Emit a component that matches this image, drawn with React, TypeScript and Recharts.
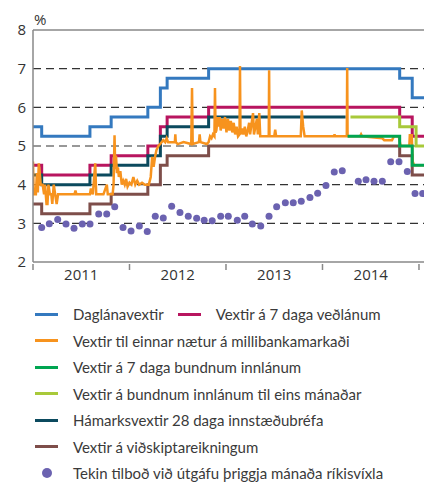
import React from "react";
import {
  ComposedChart,
  Line,
  Scatter,
  XAxis,
  YAxis,
  CartesianGrid,
  ReferenceLine,
} from "recharts";

// step series: [decimal year, %]
const dagData = [
  [2011.0, 5.5], [2011.09, 5.25], [2011.59, 5.5], [2011.81, 5.75], [2012.19, 6.0],
  [2012.32, 6.5], [2012.39, 6.75], [2012.82, 7.0], [2014.8, 6.75], [2014.93, 6.25], [2015.06, 6.25],
];
const vedData = [
  [2011.0, 4.5], [2011.09, 4.25], [2011.59, 4.5], [2011.81, 4.75], [2012.19, 5.0],
  [2012.32, 5.5], [2012.39, 5.75], [2012.82, 6.0], [2014.8, 5.75], [2014.93, 5.25], [2015.06, 5.25],
];
const hamData = [
  [2011.0, 4.25], [2011.09, 4.0], [2011.59, 4.25], [2011.81, 4.5], [2012.19, 4.75],
  [2012.32, 5.25], [2012.39, 5.5], [2012.82, 5.75], [2014.24, 5.75],
];
const vidData = [
  [2011.0, 3.5], [2011.09, 3.25], [2011.59, 3.5], [2011.81, 3.75], [2012.19, 4.0],
  [2012.32, 4.5], [2012.39, 4.75], [2012.82, 5.0], [2014.8, 4.75], [2014.93, 4.25], [2015.06, 4.25],
];
const bund7Data = [[2014.26, 5.25], [2014.8, 5.0], [2014.93, 4.5], [2015.06, 4.5]];
const bundManData = [[2014.29, 5.75], [2014.8, 5.5], [2014.97, 5.0], [2015.06, 5.0]];

// overnight interbank rate
const nottData = [
  [2011.0, 4.6], [2011.005, 4.0], [2011.01, 3.75], [2011.03, 3.75], [2011.04, 4.3], [2011.05, 3.8],
  [2011.06, 4.55], [2011.07, 4.3], [2011.08, 4.0], [2011.1, 4.0], [2011.115, 3.75], [2011.125, 4.0],
  [2011.14, 3.5], [2011.15, 3.5], [2011.16, 4.0], [2011.175, 3.75], [2011.19, 3.75], [2011.2, 3.5],
  [2011.215, 4.0], [2011.23, 3.75], [2011.245, 3.5], [2011.26, 3.75], [2011.3, 3.75], [2011.43, 3.75],
  [2011.44, 3.85], [2011.45, 3.75], [2011.59, 3.75], [2011.6, 3.9], [2011.62, 3.75], [2011.645, 4.55],
  [2011.655, 3.75], [2011.73, 3.75], [2011.765, 4.0], [2011.775, 3.75], [2011.825, 3.75], [2011.835, 4.0],
  [2011.845, 5.28], [2011.852, 4.4], [2011.86, 4.75], [2011.87, 4.3], [2011.88, 4.45], [2011.89, 4.2],
  [2011.905, 4.35], [2011.92, 4.0], [2011.935, 4.1], [2011.95, 4.0], [2011.965, 4.15], [2011.98, 3.95],
  [2012.0, 4.05], [2012.02, 4.0], [2012.04, 4.2], [2012.06, 4.0], [2012.08, 4.1], [2012.1, 4.0],
  [2012.13, 4.05], [2012.16, 4.0], [2012.2, 4.0], [2012.22, 4.2], [2012.235, 4.72], [2012.25, 4.46],
  [2012.265, 4.72], [2012.28, 4.9], [2012.3, 5.0], [2012.32, 5.06], [2012.35, 5.15], [2012.37, 5.1],
  [2012.385, 5.2], [2012.4, 5.1], [2012.47, 5.1], [2012.475, 5.3], [2012.48, 5.1], [2012.5, 5.05],
  [2012.56, 5.1], [2012.64, 5.05], [2012.648, 6.5], [2012.655, 5.05], [2012.72, 5.1], [2012.727, 5.3],
  [2012.735, 5.1], [2012.8, 5.05], [2012.82, 5.1], [2012.835, 5.25], [2012.85, 5.2], [2012.865, 5.3],
  [2012.88, 5.25], [2012.886, 6.5], [2012.892, 5.35], [2012.9, 5.4], [2012.915, 5.75], [2012.925, 5.5],
  [2012.935, 5.75], [2012.945, 5.4], [2012.96, 5.7], [2012.975, 5.45], [2012.99, 5.75], [2013.005, 5.35],
  [2013.02, 5.7], [2013.035, 5.4], [2013.05, 5.65], [2013.065, 5.35], [2013.08, 5.6], [2013.095, 5.3],
  [2013.11, 5.5], [2013.125, 5.25], [2013.14, 5.3], [2013.145, 7.07], [2013.15, 5.3], [2013.165, 5.45],
  [2013.18, 5.3], [2013.195, 5.5], [2013.21, 5.25], [2013.225, 5.4], [2013.24, 5.6], [2013.25, 5.3],
  [2013.28, 5.85], [2013.29, 5.3], [2013.32, 5.7], [2013.33, 5.3], [2013.345, 5.85], [2013.355, 5.25],
  [2013.443, 5.25], [2013.447, 6.96], [2013.451, 5.25], [2013.5, 5.25], [2013.51, 5.42], [2013.52, 5.25],
  [2013.775, 5.25], [2013.785, 5.92], [2013.8, 5.5], [2013.815, 5.25], [2014.12, 5.25], [2014.125, 5.3],
  [2014.13, 5.25], [2014.252, 5.25], [2014.256, 7.02], [2014.26, 5.25], [2014.39, 5.25], [2014.4, 5.3],
  [2014.41, 5.25], [2014.62, 5.2], [2014.64, 5.15], [2014.72, 5.15], [2014.74, 5.25], [2014.79, 5.25],
  [2014.81, 5.0], [2014.9, 5.0], [2014.905, 5.28], [2014.925, 5.28], [2014.935, 4.6], [2014.95, 4.5],
  [2015.06, 4.5],
];

// 3-month treasury bill auctions
const vixlaData = [
  [2011.09, 2.89], [2011.169, 2.99], [2011.256, 3.1], [2011.342, 2.98], [2011.425, 2.87], [2011.511, 2.98],
  [2011.591, 2.98], [2011.681, 3.24], [2011.764, 3.24], [2011.847, 3.43], [2011.933, 2.89], [2012.016, 2.8],
  [2012.102, 2.93], [2012.184, 2.79], [2012.267, 3.18], [2012.35, 3.14], [2012.437, 3.44], [2012.523, 3.28],
  [2012.609, 3.18], [2012.696, 3.13], [2012.774, 3.08], [2012.857, 3.07], [2012.945, 3.18], [2013.024, 3.18],
  [2013.117, 3.08], [2013.194, 3.18], [2013.273, 2.98], [2013.36, 2.93], [2013.446, 3.18], [2013.525, 3.43],
  [2013.615, 3.53], [2013.697, 3.53], [2013.78, 3.57], [2013.87, 3.67], [2013.95, 3.78], [2014.036, 3.98],
  [2014.122, 4.33], [2014.205, 4.36], [2014.371, 4.09], [2014.451, 4.13], [2014.534, 4.09], [2014.62, 4.09],
  [2014.707, 4.59], [2014.793, 4.59], [2014.879, 4.34], [2014.959, 3.77], [2015.038, 3.77],
];

const yTicks = [2, 3, 4, 5, 6, 7, 8];
const xTicks = [2011, 2011.5, 2012, 2012.5, 2013, 2013.5, 2014, 2014.5, 2015];

const toPts = (arr: number[][]) => arr.map(([x, y]) => ({ x, y }));

const steps = [
  { name: "Daglánavextir", data: dagData, color: "#3479BF" },
  { name: "Vextir á 7 daga veðlánum", data: vedData, color: "#B8155F" },
  { name: "Hámarksvextir 28 daga innstæðubréfa", data: hamData, color: "#0B4A5E" },
  { name: "Vextir á viðskiptareikningum", data: vidData, color: "#7E4E4A" },
  { name: "Vextir á bundnum innlánum til eins mánaðar", data: bundManData, color: "#A8C93A" },
];

const legendRows = [
  [
    { label: "Daglánavextir", color: "#3479BF" },
    { label: "Vextir á 7 daga veðlánum", color: "#B8155F" },
  ],
  [{ label: "Vextir til einnar nætur á millibankamarkaði", color: "#F7931E" }],
  [{ label: "Vextir á 7 daga bundnum innlánum", color: "#00A551" }],
  [{ label: "Vextir á bundnum innlánum til eins mánaðar", color: "#A8C93A" }],
  [{ label: "Hámarksvextir 28 daga innstæðubréfa", color: "#0B4A5E" }],
  [{ label: "Vextir á viðskiptareikningum", color: "#7E4E4A" }],
  [{ label: "Tekin tilboð við útgáfu þriggja mánaða ríkisvíxla", color: "#6B62B0", dot: true }],
];

const YearTick = (props: any) => {
  const { x, y, payload } = props;
  const v = payload.value;
  if (Number.isInteger(v)) {
    return <line x1={x} x2={x} y1={y} y2={y + 6} stroke="#888" strokeWidth={1.5} />;
  }
  return (
    <text x={x} y={y + 16} textAnchor="middle" fontSize={15} fill="#333" fontFamily="'Open Sans', sans-serif">
      {Math.floor(v)}
    </text>
  );
};

export default function App() {
  return (
    <div style={{ position: "absolute", left: 0, top: 0, width: 424, height: 482, background: "#fff" }}>
      <span
        style={{
          position: "absolute",
          left: 34,
          top: 9,
          fontSize: 15,
          color: "#333",
          fontFamily: "'Open Sans', sans-serif",
        }}
      >
        %
      </span>
      <ComposedChart width={424} height={290} margin={{ top: 30, right: 0, bottom: 0, left: 0 }}>
        <CartesianGrid vertical={false} horizontalValues={[3, 4, 5, 6, 7]} stroke="#333" strokeWidth={1.2} strokeDasharray="8 5" />
        <XAxis
          type="number"
          dataKey="x"
          domain={[2011, 2015.052]}
          allowDataOverflow
          ticks={xTicks}
          interval={0}
          tickSize={0}
          tickLine={false}
          tick={<YearTick />}
          height={28}
          axisLine={{ stroke: "#888", strokeWidth: 1.5 }}
        />
        <YAxis
          type="number"
          domain={[2, 8]}
          ticks={yTicks}
          interval={0}
          width={33}
          tickSize={0}
          tickMargin={7}
          tickLine={false}
          axisLine={{ stroke: "#888", strokeWidth: 1.5 }}
          tick={{ fontSize: 15, fill: "#333", fontFamily: "'Open Sans', sans-serif" }}
        />
        <ReferenceLine y={8} stroke="#888" strokeWidth={1.5} />
        {steps.map((s) => (
          <Line
            key={s.name}
            data={toPts(s.data)}
            dataKey="y"
            type="stepAfter"
            stroke={s.color}
            strokeWidth={3}
            dot={false}
            activeDot={false}
            isAnimationActive={false}
          />
        ))}
        <Line
          data={toPts(nottData)}
          dataKey="y"
          type="linear"
          stroke="#F7931E"
          strokeWidth={2.5}
          dot={false}
          activeDot={false}
          isAnimationActive={false}
        />
        <Line
          data={toPts(bund7Data)}
          dataKey="y"
          type="stepAfter"
          stroke="#00A551"
          strokeWidth={3}
          dot={false}
          activeDot={false}
          isAnimationActive={false}
        />
        <Scatter
          data={toPts(vixlaData)}
          dataKey="y"
          fill="#6B62B0"
          isAnimationActive={false}
          shape={(p: any) => <circle cx={p.cx} cy={p.cy} r={3.5} fill="#6B62B0" />}
        />
      </ComposedChart>
      <div
        style={{
          position: "absolute",
          left: 0,
          top: 301,
          fontFamily: "Lato, sans-serif",
          fontSize: 15,
          color: "#3a3a3a",
        }}
      >
        {legendRows.map((row, i) => (
          <div key={i} style={{ display: "flex", alignItems: "center", height: 26.5, whiteSpace: "nowrap" }}>
            {row.map((item, j) => (
              <div key={item.label} style={{ display: "flex", alignItems: "center", marginLeft: j === 0 ? 35 : 14 }}>
                {item.dot ? (
                  <span style={{ width: 23, display: "flex", justifyContent: "center" }}>
                    <span style={{ width: 10, height: 10, borderRadius: 5, background: item.color }} />
                  </span>
                ) : (
                  <span style={{ width: 23, height: 3, background: item.color }} />
                )}
                <span style={{ marginLeft: 15 }}>{item.label}</span>
              </div>
            ))}
          </div>
        ))}
      </div>
    </div>
  );
}
